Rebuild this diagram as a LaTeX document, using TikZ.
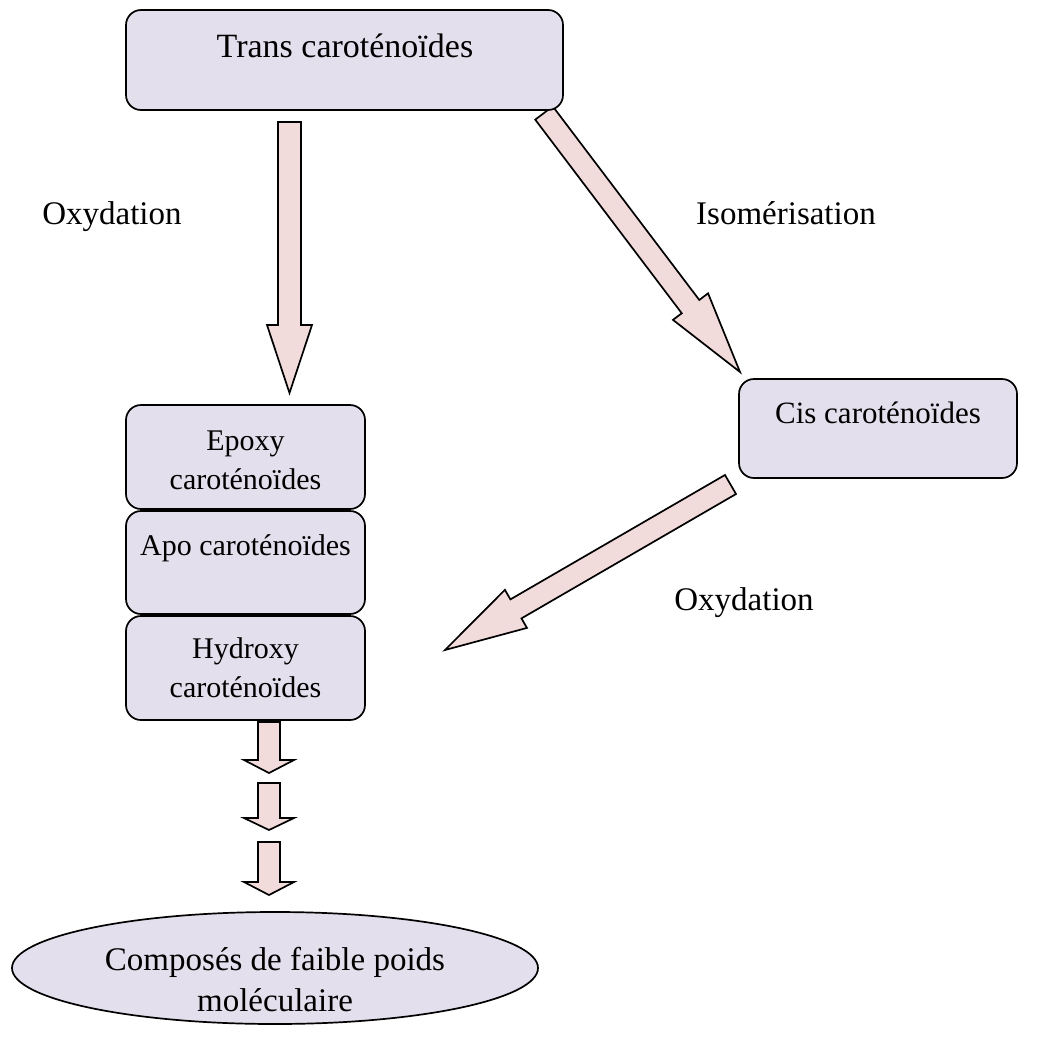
\documentclass[tikz,border=0pt]{standalone}
\usepackage{fontspec}
\setmainfont{Liberation Serif}
\usetikzlibrary{calc,shapes.geometric}
\definecolor{boxfill}{HTML}{E4DFEC}
\definecolor{arrfill}{HTML}{F2DCDB}
\tikzset{
  box/.style={draw=black, line width=1.7pt, fill=boxfill, rounded corners=15pt, inner sep=0pt},
  blockarrow/.style={draw=black, line width=1.7pt, fill=arrfill, line join=miter},
  txt/.style={font=\fontsize{34}{40}\selectfont, anchor=base, inner sep=0pt},
  ctxt/.style={font=\fontsize{31}{37}\selectfont, anchor=base, inner sep=0pt},
  ltxt/.style={font=\fontsize{33}{39}\selectfont, anchor=base, inner sep=0pt},
  stxt/.style={font=\fontsize{30}{36}\selectfont, anchor=base, inner sep=0pt},
}
% name, tail, tip, shaft half width, head half width, head length
\newcommand\blockarr[6]{%
  \coordinate (#1-b) at ($(#3)!#6!(#2)$);
  \filldraw[blockarrow] ($(#2)!#4!90:(#3)$) -- ($(#1-b)!#4!90:(#3)$) -- ($(#1-b)!#5!90:(#3)$) -- (#3)
    -- ($(#1-b)!#5!-90:(#3)$) -- ($(#1-b)!#4!-90:(#3)$) -- ($(#2)!#4!-90:(#3)$) -- cycle;
}
\begin{document}
\begin{tikzpicture}[x=1pt,y=-1pt]
\useasboundingbox (0,0) rectangle (1039,1039);
% arrow end points
\coordinate (v-tail) at (289.5,122);
\coordinate (v-tip) at (289.5,393);
\coordinate (d1-tail) at (544,113);
\coordinate (d1-tip) at (740,372);
\coordinate (d2-tail) at (730.5,484.5);
\coordinate (d2-tip) at (445,650);
\coordinate (s1-tail) at (269,722);
\coordinate (s1-tip) at (269,773);
\coordinate (s2-tail) at (269,783);
\coordinate (s2-tip) at (269,830);
\coordinate (s3-tail) at (269,842);
\coordinate (s3-tip) at (269,895);
% block arrows
\blockarr{va}{v-tail}{v-tip}{11.5pt}{22.5pt}{68pt}
\blockarr{da}{d1-tail}{d1-tip}{11pt}{22pt}{82pt}
\blockarr{db}{d2-tail}{d2-tip}{11pt}{22pt}{82pt}
\blockarr{sa}{s1-tail}{s1-tip}{11pt}{25pt}{13pt}
\blockarr{sb}{s2-tail}{s2-tip}{11pt}{25pt}{12pt}
\blockarr{sc}{s3-tail}{s3-tip}{11pt}{25pt}{13pt}
% boxes
\node[box, minimum width=437pt, minimum height=100pt] (trans) at (344.5,60) {};
\node[txt] (trans-t) at (345,57) {Trans caroténoïdes};
\node[box, minimum width=278pt, minimum height=99pt] (cis) at (878,428.5) {};
\node[ctxt] (cis-t) at (878,423) {Cis caroténoïdes};
\node[box, minimum width=239pt, minimum height=104pt] (epoxy) at (245.5,457) {};
\node[stxt] (epoxy-t1) at (245.5,450) {Epoxy};
\node[stxt] (epoxy-t2) at (245.5,489) {caroténoïdes};
\node[box, minimum width=239pt, minimum height=103pt] (apo) at (245.5,562.5) {};
\node[stxt] (apo-t) at (245.5,555) {Apo caroténoïdes};
\node[box, minimum width=239pt, minimum height=104pt] (hydroxy) at (245.5,668) {};
\node[stxt] (hydroxy-t1) at (245.5,658) {Hydroxy};
\node[stxt] (hydroxy-t2) at (245.5,697) {caroténoïdes};
\node[ellipse, draw=black, line width=1.7pt, fill=boxfill, minimum width=526pt, minimum height=112pt, inner sep=0pt] (comp) at (275,968) {};
\node[ltxt] (comp-t1) at (275,970) {Composés de faible poids};
\node[ltxt] (comp-t2) at (275,1011) {moléculaire};
% labels
\node[ltxt] (lab-ox1) at (112,224) {Oxydation};
\node[ltxt] (lab-iso) at (786,224) {Isomérisation};
\node[ltxt] (lab-ox2) at (744,610) {Oxydation};
\end{tikzpicture}
\end{document}
